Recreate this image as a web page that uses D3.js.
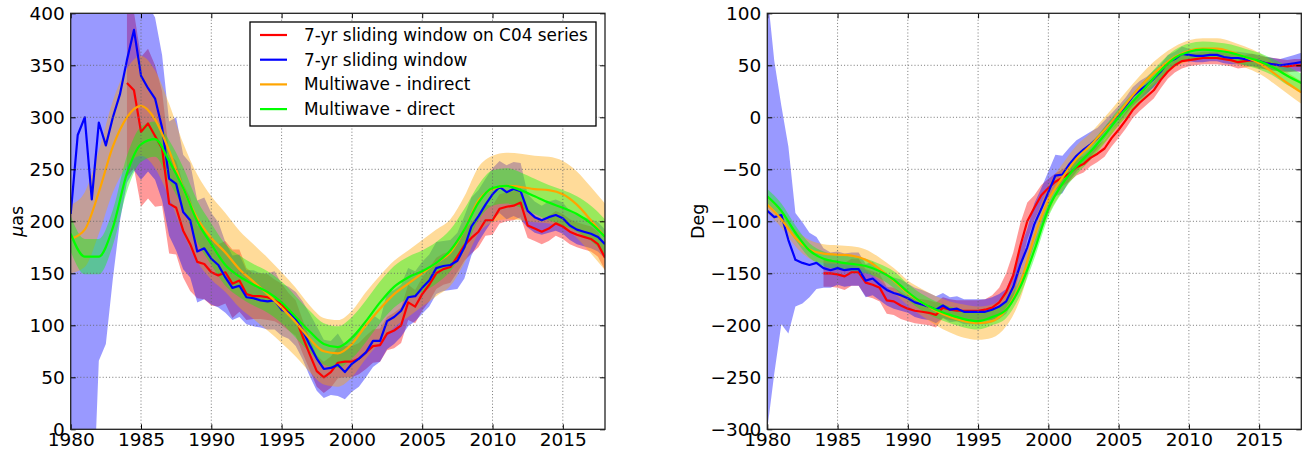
<!DOCTYPE html>
<meta charset="utf-8">
<script src="https://d3js.org/d3.v7.min.js"></script>
<style>
  body { margin: 0; background: #fff; }
  text { font-family: "DejaVu Sans", sans-serif; fill: #000; }
</style>
<div id="my_dataviz"></div>
<script>
// ---- amplitude panel (uas) ----
// sliding windows: half-year steps (blue from 1980, red from 1984), multiwave: yearly from 1980
var ampBlue = [207, 283, 300, 221, 295, 273, 300, 322, 355, 384, 340, 328, 318, 290, 241, 236, 209, 201, 171, 174,
  164, 158, 146, 136, 138, 127, 126, 124, 123, 124, 115, 112, 106, 95, 81, 68, 58, 59, 62, 55,
  63, 68, 74, 85, 85, 104, 108, 114, 127, 128, 136, 143, 155, 157, 158, 162, 175, 195, 205, 216,
  226, 233, 228, 231, 229, 210, 204, 201, 204, 206, 203, 196, 192, 190, 188, 185, 178];
var ampBlueErr = [250, 295, 315, 330, 229, 191, 155, 122, 118, 135, 100, 80, 78, 70, 55, 64, 55, 55, 49, 49,
  44, 41, 34, 31, 30, 26, 27, 26, 27, 28, 25, 25, 26, 28, 30, 31, 28, 26, 30, 26,
  27, 27, 24, 25, 20, 27, 26, 25, 28, 24, 25, 25, 25, 24, 24, 27, 30, 28, 25, 25,
  25, 25, 26, 26, 27, 16, 15, 14, 15, 15, 15, 14, 14, 14, 14, 14, 14];
var ampRed = [333, 326, 286, 294, 282, 270, 217, 213, 191, 178, 161, 159,
  151, 148, 151, 140, 143, 130, 128, 128, 127, 124, 120, 113, 107, 89, 72, 56, 50, 55, 64, 65,
  65, 68, 74, 80, 81, 92, 95, 100, 122, 118, 130, 139, 150, 154, 156, 166, 177, 184, 190, 201,
  201, 212, 214, 215, 218, 196, 193, 190, 193, 198, 195, 190, 187, 185, 183, 178, 165];
var ampRedErr = [90, 75, 72, 72, 68, 55, 48, 45, 45, 45, 35, 34,
  32, 30, 30, 33, 30, 25, 22, 22, 22, 20, 20, 18, 17, 16, 15, 15, 15, 15, 15, 15,
  15, 15, 16, 16, 16, 16, 17, 17, 17, 16, 16, 16, 15, 15, 15, 15, 15, 15, 15, 15,
  14, 14, 14, 14, 14, 12, 12, 12, 12, 12, 12, 12, 12, 12, 12, 12, 12];
var ampOrange = [183, 192, 228, 272, 300, 311, 298, 268, 232, 203,
  184, 170, 154, 142, 130, 117, 103, 87, 75, 73,
  82, 100, 116, 130, 140, 150, 160, 170, 192, 220,
  231, 234, 233, 231, 230, 226, 216, 201, 185];
var ampOrangeErr = [33, 36, 40, 44, 47, 48, 47, 45, 43, 42,
  40, 38, 37, 36, 35, 34, 33, 32, 32, 32,
  32, 32, 32, 32, 32, 32, 32, 32, 32, 32,
  32, 32, 32, 32, 32, 32, 32, 32, 32];
var ampGreen = [188, 166, 166, 194, 246, 274, 279, 258, 232, 200,
  178, 158, 147, 139, 132, 122, 108, 94, 82, 79,
  88, 104, 122, 137, 146, 152, 160, 172, 192, 218,
  232, 234, 230, 224, 218, 213, 207, 198, 185];
var ampGreenErr = [17, 17, 17, 17, 17, 17, 17, 20, 20, 20,
  20, 20, 20, 20, 20, 20, 20, 20, 20, 20,
  20, 20, 20, 20, 20, 20, 20, 20, 20, 17,
  17, 17, 17, 17, 17, 17, 17, 17, 17];

// ---- phase panel (deg) ----
var phaBlue = [-90, -96, -94, -118, -137, -140, -142, -140, -145, -147, -145, -147, -146, -146, -157, -155, -161, -166, -169, -171,
  -174, -178, -180, -182, -185, -181, -185, -184, -187, -187, -187, -187, -185, -182, -177, -163, -142, -125, -103, -88,
  -72, -56, -55, -45, -37, -31, -26, -20, -12, -4, 3, 11, 20, 26, 31, 37, 44, 53, 56, 61,
  60, 59, 59, 60, 60, 58, 57, 57, 56, 55, 54, 52, 51, 50, 51, 52, 53];
var phaBlueErr = [210, 150, 105, 90, 45, 39, 31, 25, 19, 17, 16, 16, 16, 16, 16, 16, 15, 15, 15, 15,
  14, 14, 14, 13, 13, 12, 12, 12, 12, 12, 12, 12, 12, 12, 12, 14, 16, 18, 20, 20,
  20, 20, 18, 16, 15, 13, 12, 10, 9, 8, 8, 8, 9, 9, 8, 8, 7, 7, 7, 7,
  6, 6, 6, 6, 6, 6, 6, 6, 6, 6, 6, 6, 6, 6, 7, 8, 9];
var phaRed = [-150, -150, -151, -153, -149, -149, -159, -161, -164, -176, -177, -181,
  -184, -186, -187, -188, -190, -183, -185, -186, -186, -186, -186, -185, -183, -178, -168, -152, -124, -100, -87, -75,
  -68, -62, -58, -54, -48, -45, -39, -35, -30, -20, -12, -3, 7, 14, 20, 26, 36, 44, 50, 54,
  55, 56, 57, 57, 57, 56, 55, 53, 54, 55, 53, 52, 51, 50, 49, 50, 50];
var phaRedErr = [13, 13, 13, 13, 13, 13, 13, 13, 13, 13, 13, 13,
  12, 12, 12, 12, 12, 10, 10, 10, 10, 10, 10, 10, 12, 14, 18, 22, 22, 18, 12, 10,
  9, 8, 8, 8, 8, 8, 8, 8, 8, 8, 8, 8, 8, 8, 8, 8, 8, 7, 7, 7,
  6, 6, 6, 6, 6, 6, 6, 6, 6, 6, 6, 6, 6, 6, 6, 6, 6];
var phaOrange = [-84, -98, -116, -127, -131, -132, -133, -137, -146, -157,
  -169, -178, -186, -192, -196, -198, -196, -185, -160, -115,
  -80, -58, -40, -27, -12, 4, 21, 36, 48, 58,
  64, 66, 66, 63, 58, 52, 43, 33, 24];
var phaOrangeErr = [8, 8, 8, 9, 9, 9, 9, 10, 11, 12,
  12, 13, 14, 15, 16, 16, 16, 16, 15, 14,
  14, 13, 13, 12, 12, 12, 11, 11, 11, 10,
  10, 10, 10, 10, 10, 10, 10, 10, 11];
var phaGreen = [-76, -90, -111, -128, -136, -139, -141, -143, -148, -156,
  -168, -178, -185, -190, -194, -196, -192, -185, -163, -128,
  -88, -64, -47, -33, -17, 0, 15, 30, 45, 57,
  63, 65, 64, 62, 58, 54, 48, 40, 33];
var phaGreenErr = [7, 7, 7, 7, 7, 7, 7, 7, 7, 8,
  8, 8, 8, 8, 8, 8, 8, 8, 8, 8,
  8, 8, 8, 8, 8, 8, 8, 8, 8, 8,
  8, 8, 8, 8, 8, 8, 8, 9, 9];

var legendLabels = ["7-yr sliding window on C04 series", "7-yr sliding window", "Multiwave - indirect", "Multiwave - direct"];
var colors = ["#ff0000", "#0000ff", "#ffa500", "#00ff00"];
var yearTicks = [1980, 1985, 1990, 1995, 2000, 2005, 2010, 2015];

function series(start, step, vals, errs) {
  return vals.map(function(v, i) { return {year: start + i * step, v: v, e: errs[i]}; });
}

var svg = d3.select("#my_dataviz")
  .append("svg")
    .attr("width", 1307)
    .attr("height", 456);

var plotTop = 13.3, plotBottom = 429.3;
var tickFont = "18.5px";

function drawPanel(p) {
  var x = d3.scaleLinear().domain([1980, 2018]).range([p.left, p.right]);
  var y = d3.scaleLinear().domain(p.yDomain).range([plotBottom, plotTop]);
  var g = svg.append("g");

  g.append("clipPath").attr("id", "clip" + p.id)
    .append("rect")
      .attr("x", p.left).attr("y", plotTop)
      .attr("width", p.right - p.left).attr("height", plotBottom - plotTop);

  var data = g.append("g").attr("clip-path", "url(#clip" + p.id + ")");

  // bands first (red, blue, orange, green), then lines on top
  p.series.forEach(function(s, i) {
    var area = d3.area()
      .curve(s.smooth ? d3.curveMonotoneX : d3.curveLinear)
      .x(function(d) { return x(d.year); })
      .y0(function(d) { return y(d.v - d.e); })
      .y1(function(d) { return y(d.v + d.e); });
    data.append("path")
      .datum(s.data)
      .attr("d", area)
      .attr("fill", colors[i])
      .attr("fill-opacity", 0.4);
  });
  p.series.forEach(function(s, i) {
    var line = d3.line()
      .curve(s.smooth ? d3.curveMonotoneX : d3.curveLinear)
      .x(function(d) { return x(d.year); })
      .y(function(d) { return y(d.v); });
    data.append("path")
      .datum(s.data)
      .attr("d", line)
      .attr("fill", "none")
      .attr("stroke", colors[i])
      .attr("stroke-width", 2.2)
      .attr("stroke-linejoin", "round");
  });

  // dotted grid
  var grid = g.append("g")
    .attr("stroke", "#666")
    .attr("stroke-width", 0.9)
    .attr("stroke-dasharray", "1,2.2");
  grid.selectAll(".vx").data(yearTicks.slice(1)).enter().append("line")
    .attr("x1", function(d) { return x(d); }).attr("x2", function(d) { return x(d); })
    .attr("y1", plotTop).attr("y2", plotBottom);
  grid.selectAll(".hy").data(p.yTicks.slice(1, -1)).enter().append("line")
    .attr("y1", function(d) { return y(d); }).attr("y2", function(d) { return y(d); })
    .attr("x1", p.left).attr("x2", p.right);

  // axes, ticks pointing inward on all four sides
  var bx = g.append("g")
    .attr("transform", "translate(0," + plotBottom + ")")
    .call(d3.axisBottom(x).tickValues(yearTicks).tickFormat(d3.format("d"))
      .tickSizeInner(-5).tickSizeOuter(0).tickPadding(4));
  var tx = g.append("g")
    .attr("transform", "translate(0," + plotTop + ")")
    .call(d3.axisTop(x).tickValues(yearTicks).tickFormat("")
      .tickSizeInner(-5).tickSizeOuter(0));
  var ly = g.append("g")
    .attr("transform", "translate(" + p.left + ",0)")
    .call(d3.axisLeft(y).tickValues(p.yTicks).tickFormat(d3.format("d"))
      .tickSizeInner(-5).tickSizeOuter(0).tickPadding(6));
  var ry = g.append("g")
    .attr("transform", "translate(" + p.right + ",0)")
    .call(d3.axisRight(y).tickValues(p.yTicks).tickFormat("")
      .tickSizeInner(-5).tickSizeOuter(0));
  [bx, tx, ly, ry].forEach(function(a) {
    a.select(".domain").remove();
    a.selectAll("text").style("font-size", tickFont).style("font-family", "DejaVu Sans").attr("fill", "#000");
    a.selectAll("line").attr("stroke", "#000");
  });

  // frame
  g.append("rect")
    .attr("x", p.left).attr("y", plotTop)
    .attr("width", p.right - p.left).attr("height", plotBottom - plotTop)
    .attr("fill", "none")
    .attr("stroke", "#222")
    .attr("stroke-width", 1.3);

  // y label
  var lab = g.append("text")
    .attr("transform", "translate(" + p.labelX + "," + (plotTop + plotBottom) / 2 + ") rotate(-90)")
    .attr("text-anchor", "middle")
    .style("font-size", "17.5px");
  p.label(lab);

  return g;
}

var leftPanel = drawPanel({
  id: "amp", left: 70.7, right: 605, yDomain: [0, 400],
  yTicks: [0, 50, 100, 150, 200, 250, 300, 350, 400],
  labelX: 23,
  label: function(t) {
    t.append("tspan").style("font-style", "italic").text("\u03bc");
    t.append("tspan").text("as");
  },
  series: [
    {data: series(1984, 0.5, ampRed, ampRedErr)},
    {data: series(1980, 0.5, ampBlue, ampBlueErr)},
    {data: series(1980, 1, ampOrange, ampOrangeErr), smooth: true},
    {data: series(1980, 1, ampGreen, ampGreenErr), smooth: true}
  ]
});

drawPanel({
  id: "pha", left: 767.3, right: 1301.3, yDomain: [-300, 100],
  yTicks: [-300, -250, -200, -150, -100, -50, 0, 50, 100],
  labelX: 704,
  label: function(t) { t.text("Deg"); },
  series: [
    {data: series(1984, 0.5, phaRed, phaRedErr)},
    {data: series(1980, 0.5, phaBlue, phaBlueErr)},
    {data: series(1980, 1, phaOrange, phaOrangeErr), smooth: true},
    {data: series(1980, 1, phaGreen, phaGreenErr), smooth: true}
  ]
});

// legend in the amplitude panel
var legend = leftPanel.append("g").attr("transform", "translate(250,22)");
legend.append("rect")
  .attr("width", 346).attr("height", 104)
  .attr("fill", "#fff")
  .attr("stroke", "#000")
  .attr("stroke-width", 1.3);
legendLabels.forEach(function(lbl, i) {
  var ly = 13 + i * 24.7;
  legend.append("line")
    .attr("x1", 10).attr("x2", 37)
    .attr("y1", ly).attr("y2", ly)
    .attr("stroke", colors[i])
    .attr("stroke-width", 2.2);
  legend.append("text")
    .attr("x", 54).attr("y", ly)
    .attr("dy", "0.36em")
    .style("font-size", "16.9px")
    .text(lbl);
});
</script>
